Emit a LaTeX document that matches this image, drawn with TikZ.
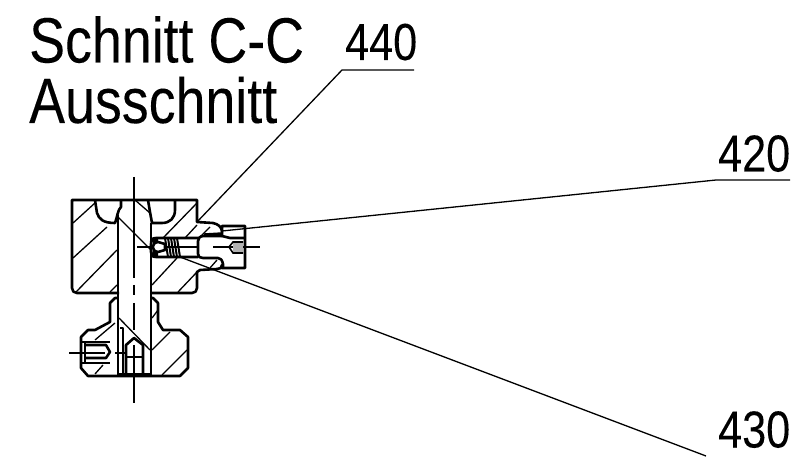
\documentclass[tikz,border=0pt]{standalone}
\usepackage{fontspec}
\setmainfont[FakeBold=0.1]{Liberation Sans}
\tikzset{
  thick line/.style={line width=2.6pt,line join=round},
  thin line/.style={line width=1.3pt},
  leader/.style={line width=1.3pt},
  big/.style={inner sep=0pt,anchor=base west,font=\fontsize{64}{64}\selectfont},
  num/.style={inner sep=0pt,anchor=base west,font=\fontsize{52}{52}\selectfont}
}
\begin{document}
\begin{tikzpicture}[x=1pt,y=-1pt]
\useasboundingbox (0,0) rectangle (796,457);
% Titles
\node[big] (t1) at (29,62.5) {\scalebox{0.84}[1]{Schnitt C-C}};
\node[big] (t2) at (29,123) {\scalebox{0.84}[1]{Ausschnitt}};
\node[num] (n440) at (345,60) {\scalebox{0.83}[1]{440}};
\node[num] (n420) at (718,171.5) {\scalebox{0.83}[1]{420}};
\node[num] (n430) at (718,447.5) {\scalebox{0.83}[1]{430}};
% Leaders
\coordinate (a1) at (414,70); \coordinate (a2) at (342,70); \coordinate (a3) at (197,222);
\coordinate (b1) at (790,180); \coordinate (b2) at (716,180); \coordinate (b3) at (222,231);
\coordinate (c1) at (706,456); \coordinate (c3) at (180,257);
\draw[leader] (a1) -- (a2) -- (a3);
\draw[leader] (b1) -- (b2) -- (b3);
\draw[leader] (c1) -- (c3);
% Centre lines
\draw[thin line] (134,177) -- (134,278);
\draw[thin line] (134,285) -- (134,295);
\draw[thin line] (134,303) -- (134,330);
\draw[thin line] (134,375) -- (134,403);
\draw[thin line] (137,247) -- (198,247);
\draw[thin line] (213,247) -- (260,247);
\draw[thin line] (69,353) -- (92,353);
\draw[thin line] (115,353) -- (125,353);
% Upper body
\draw[thick line] (119,293) -- (77,293) .. controls (74,293) and (72,291) .. (72,288) -- (72,200) -- (197,200) -- (197,222) -- (213,223) .. controls (218,224) and (222,227) .. (222,232) -- (222,228) -- (222,226) -- (245,226) -- (245,268) -- (222,268) -- (222,265) .. controls (222,268) and (220,269) .. (217,269) -- (200,270) -- (197,272) -- (197,288) .. controls (197,291) and (195,293) .. (192,293) -- (151,293);
% Counterbores
\draw[thick line] (95,200) -- (97,213) .. controls (99,219) and (103,223) .. (115,223) .. controls (117,218) and (118,209) .. (121,207) -- (121,200);
\draw[thick line] (148,200) -- (150,212) -- (152,223) -- (162,223) .. controls (170,223) and (175,218) .. (175,210) -- (175,200);
% Shaft
\draw[thick line] (118,215) -- (118,375);
\draw[thick line] (151,223) -- (151,375);
% Break lines
\draw[thin line] (118,217) -- (151,250);
\draw[thin line] (135,200) -- (150,213);
\draw[thin line] (119,318) -- (150,350);
% Hatching upper
\draw[thin line] (73,223) -- (95,203);
\draw[thin line] (73,258) -- (107,227);
\draw[thin line] (76,292) -- (117,250);
\draw[thin line] (110,292) -- (117,285);
\draw[thin line] (163,238) -- (197,203);
\draw[thin line] (185,238) -- (197,225);
\draw[thin line] (200,237) -- (210,227);
\draw[thin line] (152,285) -- (177,258);
\draw[thin line] (178,292) -- (197,272);
\draw[thin line] (210,268) -- (217,260);
% Bore
\draw[thick line] (198,238) -- (156,238) .. controls (152,238) and (151,240) .. (151,244) -- (151,252) .. controls (151,255) and (152,257) .. (156,257) -- (198,257);
% Plug
\draw[thick line] (222,232) -- (222,236) -- (204,236) .. controls (200,236) and (198,238) .. (198,241) -- (198,254) .. controls (198,257) and (200,258) .. (203,258) -- (218,258) .. controls (221,258) and (222,260) .. (223,264) -- (223,268);
\draw[thick line] (222,236) -- (230,238) -- (245,238);
\draw[line width=3.4pt] (204,235) -- (221,234);
% Ball
\draw[thick line,fill=white] (158,242) .. controls (151,243) and (151,251) .. (158,252) -- (165,250) -- (165,244) -- cycle;
\fill (151,238) -- (158,238) -- (158,241) -- (153,244) -- cycle;
\fill (151,257) -- (158,257) -- (158,253) -- (153,250) -- cycle;
% Spring
\foreach \x in {165,168,171,174,177}{\draw[line width=2pt] (\x,238) -- (\x+3,257);}
% Socket
\fill[gray!60] (233,243) rectangle (243,252);
\draw[line width=1.6pt] (243,242) -- (233,242) -- (229,247) -- (233,253) -- (243,253);
% Lower flange
\draw[thick line] (118,298) -- (115,298) -- (110,303) -- (110,322) -- (95,330) -- (88,330) -- (81,337) -- (81,368) -- (88,376) -- (180,376) -- (188,368) -- (188,337) -- (180,330) -- (163,330) -- (158,322) -- (158,303) -- (153,298) -- (151,298);
% Lower hatching
\draw[thin line] (95,340) -- (115,323);
\draw[thin line] (95,374) -- (103,365);
\draw[thin line] (152,350) -- (170,332);
\draw[thin line] (162,375) -- (187,350);
\draw[thin line] (152,318) -- (158,310);
% Keys at shaft bottom
\draw[thick line] (120,328) -- (123,328) -- (123,374);
\draw[thick line] (126,374) -- (126,345) -- (134,338) -- (143,345) -- (143,374);
\draw[thin line] (134,345) -- (134,374);
\draw[thin line] (126,357) -- (143,357);
\draw[line width=3pt] (118,375) -- (151,375);
% Grub screw
\draw[thick line] (85,342) -- (110,342);
\draw[thick line] (85,363) -- (110,363);
\draw[thick line] (86,345) -- (106,345) -- (110,352) -- (106,358) -- (86,358);
\draw[thick line] (82,342) -- (85,342) -- (85,363) -- (82,363);
\draw[thin line] (92,353) -- (105,353);
\end{tikzpicture}
\end{document}
